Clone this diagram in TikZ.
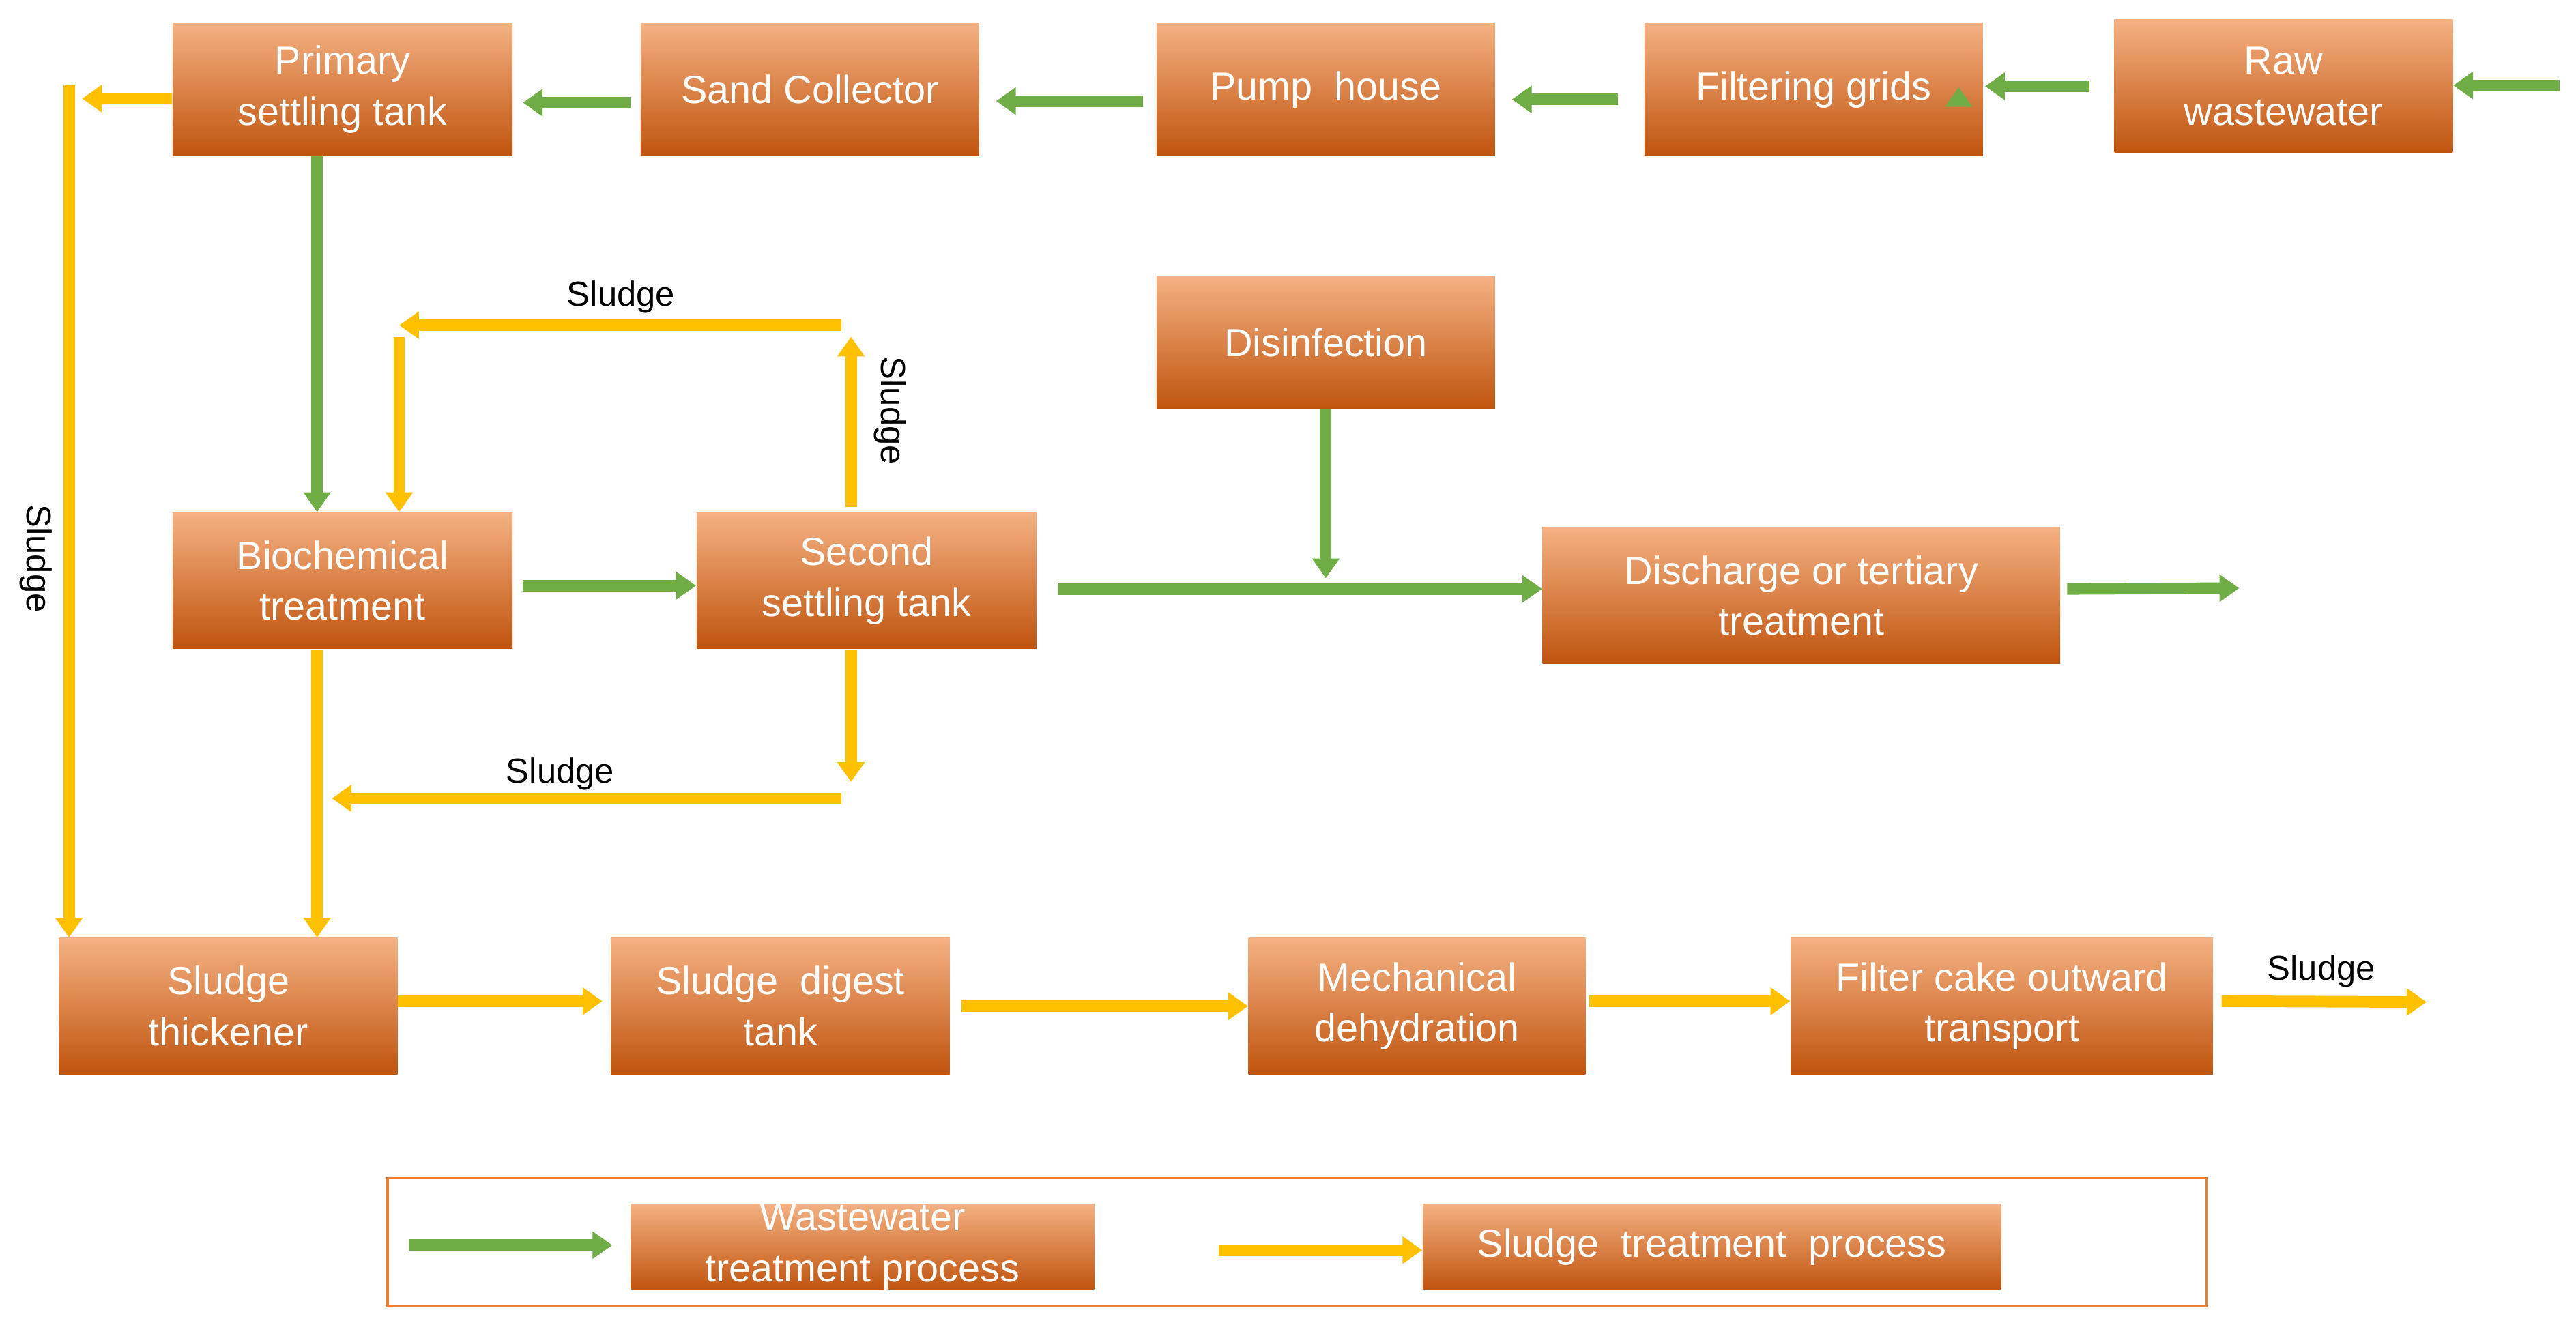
\documentclass[tikz,border=0pt]{standalone}
\usepackage{fontspec}
\setmainfont{Liberation Sans}
\usetikzlibrary{arrows.meta,calc}
\definecolor{gr}{HTML}{70AD47}
\definecolor{yl}{HTML}{FFC000}
\definecolor{otop}{HTML}{F4B183}
\definecolor{obot}{HTML}{C0540E}
\definecolor{oframe}{HTML}{ED7D31}
\begin{document}
\begin{tikzpicture}[x=0.025cm,y=-0.025cm,
 box/.style 2 args={draw=none,top color=otop,bottom color=obot,text=white,align=center,
   font=\fontsize{17}{22}\selectfont,minimum width=#1*0.025cm,minimum height=#2*0.025cm,inner sep=0pt},
 ga/.style={draw=gr,line width=5pt,-{Triangle[length=0.3cm,width=0.4cm]}},
 ya/.style={draw=yl,line width=5pt,-{Triangle[length=0.3cm,width=0.4cm]}},
 yl/.style={draw=yl,line width=5pt},
 lab/.style={font=\fontsize{15}{18}\selectfont,inner sep=0pt}]
\useasboundingbox (0,0) rectangle (1568,805);
\fill[white] (0,0) rectangle (1568,805);
% boxes
\node[box={207}{81}] (prim) at (208.5,54.5) {Primary\\settling tank};
\node[box={206}{81}] (sand) at (493,54.5) {Sand Collector};
\node[box={206}{81}] (pump) at (807,54.5) {Pump\ \ house};
\node[box={206}{81}] (filt) at (1104,54.5) {Filtering grids};
\node[box={206}{81}] (raw) at (1390,52.5) {Raw\\wastewater};
\node[box={206}{81}] (dis) at (807,208.5) {Disinfection};
\node[box={207}{83}] (bio) at (208.5,353.5) {Biochemical\\treatment};
\node[box={207}{83}] (sec) at (527.5,353.5) {Second\\settling tank};
\node[box={315}{83}] (disc) at (1096.5,362.5) {Discharge or tertiary\\treatment};
\node[box={206}{83}] (thick) at (139,612.5) {Sludge\\thickener};
\node[box={206}{83}] (dig) at (475,612.5) {Sludge\ \ digest\\tank};
\node[box={205}{83}] (mech) at (862.5,612.5) {Mechanical\\dehydration};
\node[box={257}{83}] (cake) at (1218.5,612.5) {Filter cake outward\\transport};
% green arrows
\coordinate (rawin) at (1558,52);
\draw[ga] (rawin) -- (raw.east|-rawin);
\draw[ga] ([xshift=-15*0.025cm]filt.east|-0,53) ++(0,0) coordinate (t1);
\draw[ga] ($(raw.west)+(-15,0)$) -- ($(filt.east)+(1,-2)$);
\draw[ga] ($(filt.west)+(-16,6)$) -- ($(pump.east)+(10,6)$);
\draw[ga] ($(pump.west)+(-8,7)$) -- ($(sand.east)+(10,7)$);
\draw[ga] ($(sand.west)+(-6,8)$) -- ($(prim.east)+(6,8)$);
\draw[ga] (prim.south-|193,0) -- (bio.north-|193,0);
\draw[ga] ($(bio.east)+(6,3)$) -- ($(sec.west)+(0,3)$);
\draw[ga] ($(sec.east)+(13,5)$) -- ($(disc.west)+(0,-4)$);
\draw[ga] (dis.south) -- (807,352);
\coordinate (dout) at (1363,358);
\draw[ga] ($(disc.east)+(4,-4)$) -- (dout);
% yellow arrows
\coordinate (sl1) at (50,60);
\draw[ya] (prim.west|-sl1) -- (sl1);
\draw[ya] (42,52) -- (thick.north-|42,0);
\node[lab,rotate=-90] at (22,340) {Sludge};
\coordinate (lA) at (518,198);
\coordinate (lB) at (243,198);
\draw[ya] (sec.north-|518,0) ++(0,-3) -- (518,205);
\draw[ya] (512,198) -- (lB);
\draw[ya] (lB) ++(0,7) -- (bio.north-|243,0) ;
\node[lab] at (378,181) {Sludge};
\node[lab,rotate=-90] at (542,250) {Sludge};
\draw[ya] (sec.south-|518,0) -- (518,476);
\coordinate (lC) at (202,486);
\draw[ya] (512,486) -- (lC);
\node[lab] at (341,471) {Sludge};
\draw[ya] (bio.south-|193,0) -- (thick.north-|193,0);
\draw[ya] ($(thick.east)+(0,-3)$) -- ($(dig.west)+(-5,-3)$);
\draw[ya] ($(dig.east)+(7,0)$) -- (mech.west);
\draw[ya] ($(mech.east)+(2,-3)$) -- ($(cake.west)+(0,-3)$);
\coordinate (cout) at (1477,610);
\draw[ya] ($(cake.east)+(5,-3)$) -- (cout);
\node[lab] at (1413,591) {Sludge};
% legend
\node[draw=oframe,line width=1pt,minimum width=1107*0.025cm,minimum height=78*0.025cm,inner sep=0pt] (leg) at (789.5,756) {};
\node[box={282}{52}] (lw) at (525,759) {};
\begin{scope}
\clip (lw.south west) rectangle (lw.north east);
\node[text=white,align=center,font=\fontsize{17}{22}\selectfont] at (525,759) {Wastewater\\treatment process};
\end{scope}
\node[box={352}{52}] (ls) at (1042,759) {Sludge\ \ treatment\ \ process};
\coordinate (lg) at (249,758);
\draw[ga] (lg) -- ($(lw.west)+(-11,-1)$);
\coordinate (ly) at (742,761);
\draw[ya] (ly) -- (ls.west|-ly);
\end{tikzpicture}
\end{document}
